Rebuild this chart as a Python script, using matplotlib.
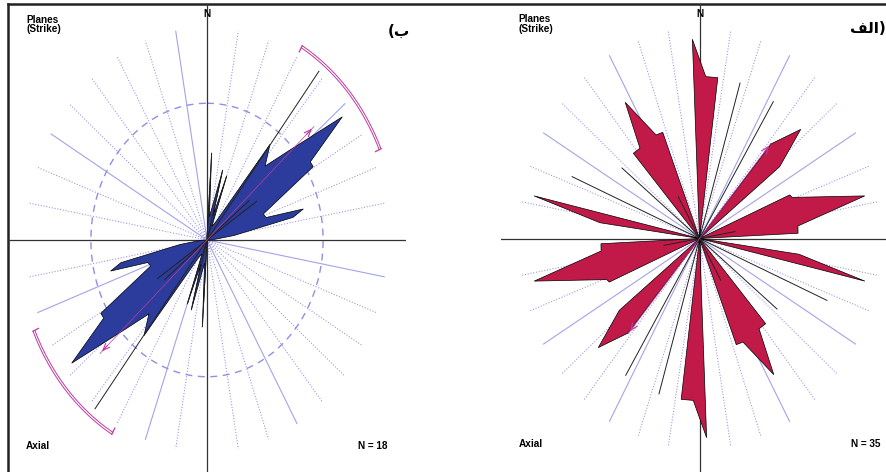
import numpy as np
import matplotlib
matplotlib.use("Agg")
import matplotlib.pyplot as plt

# ---------------- data ----------------
# Rose outline, half circle (axial data, mirrored by 180 deg). r in units of grid radius.
blue_bearing = [0.0, 0.5, 3.6, 7.0, 14.8, 16.5, 19.9, 23.0, 30.0, 37.8, 42.8, 47.2,
                52.3, 57.3, 59.6, 68.6, 72.1, 74.7, 77.4, 82.0, 88.0, 90.0]
blue_radius = [0.0, 0.02, 0.41, 0.11, 0.34, 0.12, 0.32, 0.07, 0.10, 0.571, 0.475, 0.62,
               0.95, 0.682, 0.684, 0.336, 0.345, 0.555, 0.49, 0.15, 0.03, 0.0]

red_bearing = [-90, -82.3, -77.6, -60, -42.3, -37.7, -32.6, -26.2, -22.1, -10,
               -2.4, 2.6, 7.6, 20, 41.6, 47.4, 52.6, 60, 67.6, 69.3, 77.6, 83.8, 87.4, 90]
red_radius = [0, 0.558, 0.941, 0, 0.546, 0.541, 0.766, 0.547, 0.543, 0,
              0.945, 0.768, 0.769, 0, 0.60, 0.764, 0.561, 0, 0.542, 0.551, 0.94, 0.55, 0.548, 0]

# black single lines (bearing, length), mirrored
blue_line_bearing = [3.6, 14.8, 19.9, 38.0, 51.5, 56.5]
blue_line_length = [0.41, 0.34, 0.32, 1.01, 0.30, 0.33]
red_line_bearing = [-67.5, -52.2, -30.8, 17.0, 32.3, 80.6]
red_line_length = [0.766, 0.545, 0.23, 0.77, 0.767, 0.20]

# mean direction and confidence arc
blue_mean, blue_mean_len = 48.0, 0.80
blue_conf = (30.0, 66.0)
red_mean, red_mean_len = 41.3, 0.60

blue_n, red_n = 18, 35
blue_circle = 0.645

left_label = "(\u0628"                       # ب)
right_label = "\uFED2\uFEDF\u0627)"          # الف)

# ---------------- style ----------------
BLUE = "#2b3c9c"
RED = "#c21a48"
GRID_DOT = "#8f8fe6"
GRID_SOLID = "#a3a3ea"
MAG = "#c03aa0"
AXC = "#333333"
TXT = ["Liberation Sans Narrow", "Liberation Sans", "DejaVu Sans"]

W, H = 886, 472
fig = plt.figure(figsize=(W / 100, H / 100), dpi=100)

# frame (top and left border)
fr = fig.add_axes([8 / W, 0, 878 / W, 468 / H])
fr.set_xticks([]); fr.set_yticks([])
fr.patch.set_alpha(0)
for s in ["right", "bottom"]:
    fr.spines[s].set_visible(False)
for s in ["top", "left"]:
    fr.spines[s].set_linewidth(1.8)
    fr.spines[s].set_color("#222222")


def pol(b, r):
    b = np.radians(np.asarray(b, float))
    r = np.asarray(r, float)
    return r * np.sin(b), r * np.cos(b)


def panel(rect, xlim, ylim, bearings, radii, color, lbear, llen, solid_step,
          mean, mean_len, nval, conf=None, circle=None):
    ax = fig.add_axes(rect)
    ax.set_xlim(*xlim); ax.set_ylim(*ylim)
    ax.axis("off")
    # grid lines
    for b in range(10, 360, 10):
        if b % 90 == 0:
            continue
        x, y = pol([b, b], [0, 1.0])
        if b % solid_step == 0:
            ax.plot(x, y, color=GRID_SOLID, lw=0.8, zorder=1)
        else:
            ax.plot(x, y, color=GRID_DOT, lw=0.75, dashes=(1.0, 1.7), zorder=1)
    if circle is not None:
        t = np.linspace(0, 360, 361)
        x, y = pol(t, np.full_like(t, circle))
        ax.plot(x, y, color=GRID_DOT, lw=1.0, dashes=(5, 4), zorder=1)
    ax.axhline(0, color=AXC, lw=0.9, zorder=2)
    ax.axvline(0, color=AXC, lw=0.9, zorder=2)
    # rose
    b = np.concatenate([bearings, np.asarray(bearings) + 180])
    r = np.concatenate([radii, radii])
    x, y = pol(b, r)
    ax.fill(x, y, facecolor=color, edgecolor="black", lw=0.5, zorder=3)
    # single lines
    for bb, ll in zip(lbear, llen):
        for off in (0, 180):
            x, y = pol([bb + off] * 2, [0, ll])
            ax.plot(x, y, color="#222222", lw=0.7, zorder=4)
    # mean direction
    for off in (0, 180):
        x0, y0 = pol(mean + off, 0)
        x1, y1 = pol(mean + off, mean_len)
        ax.plot([x0, x1], [y0, y1], color=MAG, lw=0.5, zorder=5)
        xa, ya = pol(mean + off, mean_len - 0.07)
        ax.annotate("", xy=(x1, y1), xytext=(xa, ya),
                    arrowprops=dict(arrowstyle="->,head_length=0.5,head_width=0.2",
                                    color=MAG, lw=0.8), zorder=5)
        if conf is not None:
            t = np.linspace(conf[0] + off, conf[1] + off, 80)
            for rr in (1.058, 1.047):
                x, y = pol(t, np.full_like(t, rr))
                ax.plot(x, y, color=MAG, lw=0.7, zorder=5)
            for e in (conf[0] + off, conf[1] + off):
                x, y = pol([e, e], [1.058, 1.025])
                ax.plot(x, y, color=MAG, lw=0.9, zorder=5)
    # texts
    ax.text(-1.005, 1.062, "Planes\n(Strike)", ha="left", va="top",
            fontsize=7.2, fontweight="bold", family=TXT, linespacing=0.95, zorder=6)
    ax.text(0, 1.066, "N", ha="center", va="center", fontsize=7.2, fontweight="bold",
            family=TXT, zorder=6)
    ax.text(-1.006, -0.972, "Axial", ha="left", va="center", fontsize=7.2,
            fontweight="bold", family=TXT, zorder=6)
    ax.text(1.005, -0.972, "N = %d" % nval, ha="right", va="center", fontsize=7.2,
            fontweight="bold", family=TXT, zorder=6)
    return ax


axL = panel([8 / W, 0, 398 / W, 468 / H], (-199 / 180, 199 / 180), (-232 / 212, 236 / 212),
            blue_bearing, blue_radius, BLUE, blue_line_bearing, blue_line_length, 50,
            blue_mean, blue_mean_len, blue_n, conf=blue_conf, circle=blue_circle)
axR = panel([501 / W, 0, 385 / W, 468 / H], (-198.5 / 180, 186.5 / 180), (-233.5 / 211, 234.5 / 211),
            red_bearing, red_radius, RED, red_line_bearing, red_line_length, 30,
            red_mean, red_mean_len, red_n)

axL.text(1.128, 0.986, left_label, ha="right", va="center", fontsize=11,
         fontweight="bold", family=["DejaVu Sans"], zorder=6)
axR.text(1.036, 0.993, right_label, ha="right", va="center", fontsize=11,
         fontweight="bold", family=["DejaVu Sans"], zorder=6)

fig.savefig("out.png", dpi=100)
